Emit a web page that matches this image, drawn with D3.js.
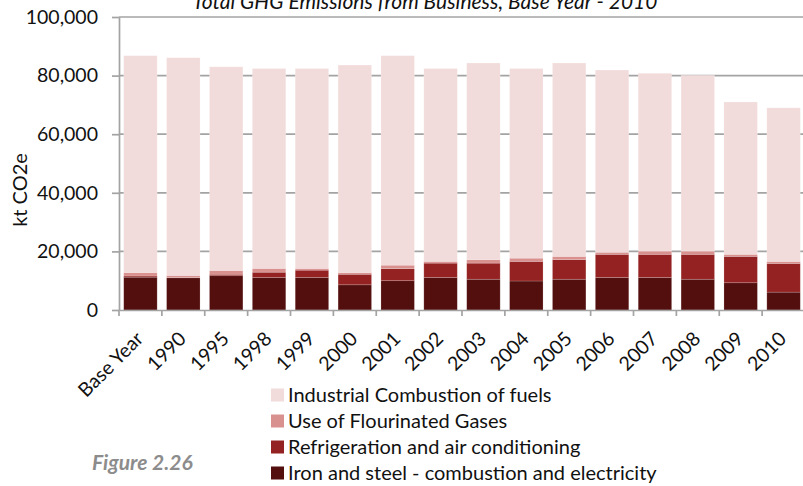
<!DOCTYPE html>
<html><head><meta charset="utf-8">
<script src="https://cdn.jsdelivr.net/npm/d3@7"></script>
<style>
html,body{margin:0;padding:0;background:#fff;}
svg{display:block;font-family:Lato,"Open Sans",sans-serif;}
</style></head>
<body>
<svg id="chart" width="803" height="486"></svg>
<script>
const categories = ["Base Year","1990","1995","1998","1999","2000","2001","2002","2003","2004","2005","2006","2007","2008","2009","2010"];
const ironSteel   = [11200,11000,11700,11100,11100, 8600,10000,11100,10500, 9900,10500,11100,11100,10500, 9300, 6100];
const refrigAC    = [  400,  100,  500, 1800, 2500, 3600, 4100, 4900, 5500, 6700, 6700, 7900, 7900, 8500, 9000, 9800];
const fluorGases  = [ 1200,  700, 1300, 1300,  600,  600, 1200,  600, 1200, 1100, 1100,  700, 1100, 1100,  700,  700];
const industrial  = [74000,74300,69500,68200,68200,70800,71500,65800,67100,64700,66000,62200,60700,60000,52000,52400];
const seriesNames = ["Iron and steel - combustion and electricity","Refrigeration and air conditioning","Use of Flourinated Gases","Industrial Combustion of fuels"];
const seriesColors = ["#530e0e","#942222","#d9918f","#f2dcdb"];
const yTicks = [0,20000,40000,60000,80000,100000];
const titleText = "Total GHG Emissions from Business, Base Year - 2010";
const yTitle = "kt CO2e";
const figureLabel = "Figure 2.26";

const svg = d3.select("#chart");
const mLeft = 119, mRight = 805, mTop = 17, mBottom = 310;
const gridColor = "#a3a3a3";
const fs = 19.5;

const x = d3.scaleBand().domain(categories).range([mLeft, mRight]).paddingInner(0.22).paddingOuter(0.11);
const y = d3.scaleLinear().domain([0, 100000]).range([mBottom, mTop]);

// gridlines
svg.append("g").selectAll("line").data(yTicks.filter(d => d > 0)).join("line")
  .attr("x1", mLeft).attr("x2", mRight).attr("y1", d => y(d)).attr("y2", d => y(d))
  .attr("stroke", gridColor).attr("stroke-width", 1.7);

// stacked data
const seriesArrays = [ironSteel, refrigAC, fluorGases, industrial];
const rows = categories.map((c, i) => {
  const o = {cat: c};
  seriesArrays.forEach((arr, k) => o["s" + k] = arr[i]);
  return o;
});
const stacked = d3.stack().keys(["s0","s1","s2","s3"])(rows);

svg.append("g").selectAll("g").data(stacked).join("g")
  .attr("fill", (d, i) => seriesColors[i])
  .selectAll("rect").data(d => d).join("rect")
  .attr("x", d => x(d.data.cat))
  .attr("width", x.bandwidth())
  .attr("y", d => y(d[1]))
  .attr("height", d => y(d[0]) - y(d[1]))
  .attr("stroke", "#ffffff").attr("stroke-opacity", 0.25).attr("stroke-width", 0.7);

// y axis
const yAxis = d3.axisLeft(y).tickValues(yTicks).tickSize(7).tickPadding(14)
  .tickFormat(d3.format(",")).tickSizeOuter(0);
const gy = svg.append("g").attr("transform", `translate(${mLeft},0)`).call(yAxis);
gy.select(".domain").attr("stroke", gridColor).attr("stroke-width", 1.7);
gy.selectAll(".tick line").attr("stroke", gridColor).attr("stroke-width", 1.7);
gy.selectAll(".tick text").attr("font-size", fs).attr("fill", "#111").attr("font-family", "Lato");

// x axis
const xAxis = d3.axisBottom(x).tickSize(0).tickSizeOuter(0);
const gx = svg.append("g").attr("transform", `translate(0,${mBottom})`).call(xAxis);
gx.select(".domain").attr("stroke", gridColor).attr("stroke-width", 1.7);
gx.selectAll(".tick text")
  .attr("font-size", fs).attr("fill", "#111").attr("font-family", "Lato")
  .attr("text-anchor", "end").attr("dy", 0).attr("y", 0)
  .attr("transform", "translate(4,30) rotate(-45)");
// boundary ticks
const gap = (x.step() - x.bandwidth()) / 2;
const bounds = categories.map(c => x(c) - gap).concat([x(categories[categories.length - 1]) + x.bandwidth() + gap]);
svg.append("g").selectAll("line").data(bounds).join("line")
  .attr("x1", d => d).attr("x2", d => d).attr("y1", mBottom).attr("y2", mBottom + 6)
  .attr("stroke", gridColor).attr("stroke-width", 1.7);

// title
svg.append("text").attr("x", 425).attr("y", 9).attr("text-anchor", "middle")
  .attr("font-style", "italic").attr("font-size", 21).attr("fill", "#111").text(titleText);

// y title
svg.append("text").attr("transform", "translate(27,190) rotate(-90)").attr("text-anchor", "middle")
  .attr("font-size", 20).attr("fill", "#111").text(yTitle);

// legend (top to bottom: industrial, fluor, refrig, iron)
const legendOrder = [3, 2, 1, 0];
const lg = svg.append("g").selectAll("g").data(legendOrder).join("g")
  .attr("transform", (d, i) => `translate(271,${395 + i * 26})`);
lg.append("rect").attr("x", 0).attr("y", -6.5).attr("width", 13).attr("height", 13)
  .attr("fill", d => seriesColors[d]);
lg.append("text").attr("x", 17).attr("y", 0).attr("dy", "0.35em")
  .attr("font-size", 20).attr("fill", "#111").text(d => seriesNames[d]);

// figure label
svg.append("text").attr("x", 92).attr("y", 463).attr("dy", "0.35em")
  .attr("font-style", "italic").attr("font-weight", "bold").attr("font-size", 21)
  .attr("fill", "#8c8c8c").text(figureLabel);
</script>
</body></html>
